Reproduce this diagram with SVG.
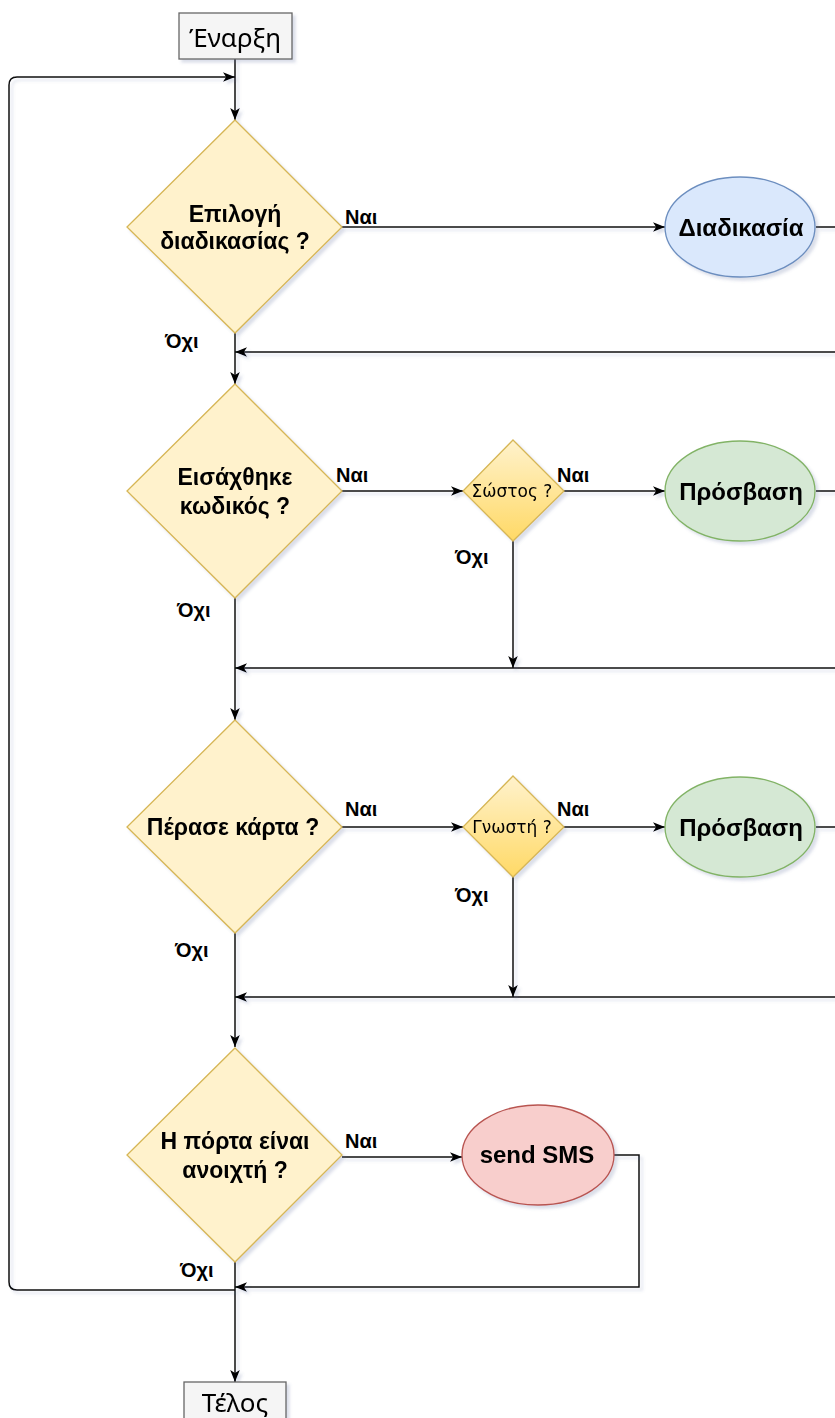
<svg xmlns="http://www.w3.org/2000/svg" width="835" height="1418" viewBox="0 0 835 1418">
  <defs>
    <filter id="shadow" x="-20%" y="-20%" width="150%" height="150%">
      <feGaussianBlur in="SourceAlpha" stdDeviation="1.6"/>
      <feOffset dx="3" dy="3" result="off"/>
      <feFlood flood-color="#5a6a9a" flood-opacity="0.22"/>
      <feComposite in2="off" operator="in"/>
      <feMerge><feMergeNode/><feMergeNode in="SourceGraphic"/></feMerge>
    </filter>
    <linearGradient id="goldFill" x1="0" y1="0" x2="0" y2="1">
      <stop offset="0" stop-color="#fff2cc"/>
      <stop offset="1" stop-color="#ffd966"/>
    </linearGradient>
    <marker id="arrow" viewBox="0 0 10 10" refX="10" refY="5" markerWidth="12" markerHeight="12" markerUnits="userSpaceOnUse" orient="auto">
      <path d="M0,1 L10,5 L0,9 L2.6,5 Z" fill="#000"/>
    </marker>
  </defs>
  <style>
    .term { fill: #f5f5f5; stroke: #666666; stroke-width: 1.3; }
    .term-t { font-family: "Noto Sans", "Open Sans", sans-serif; font-size: 26px; fill: #000; text-anchor: middle; }
    .dec { fill: #fff2cc; stroke: #d6b656; stroke-width: 1.3; }
    .dec-small { fill: url(#goldFill); stroke: #d6b656; stroke-width: 1.3; }
    .dec-t { font-family: "Liberation Sans", Arial, sans-serif; font-size: 23px; font-weight: bold; fill: #000; text-anchor: middle; }
    .small-t { font-family: "DejaVu Sans", "Liberation Sans", sans-serif; font-size: 17px; fill: #000; text-anchor: middle; }
    .blue { fill: #dae8fc; stroke: #6c8ebf; stroke-width: 1.3; }
    .green { fill: #d5e8d4; stroke: #82b366; stroke-width: 1.3; }
    .red { fill: #f8cecc; stroke: #b85450; stroke-width: 1.3; }
    .proc-t { font-family: "Liberation Sans", Arial, sans-serif; font-size: 24px; font-weight: bold; fill: #000; text-anchor: middle; }
    .lbl { font-family: "Liberation Sans", Arial, sans-serif; font-size: 20px; font-weight: bold; fill: #000; }
    .edge { fill: none; stroke: #111111; stroke-width: 1.5; }
    .arr { marker-end: url(#arrow); }
  </style>
  <rect width="835" height="1418" fill="#ffffff"/>

  <!-- connectors -->
  <g id="connectors" filter="url(#shadow)">
    <path class="edge arr" d="M235,59 V120"/>
    <path class="edge arr" d="M235,1290 H17 Q9,1290 9,1282 V85 Q9,77 17,77 H235"/>
    <path class="edge arr" d="M342,227 H665"/>
    <path class="edge" d="M816,227 H835"/>
    <path class="edge arr" d="M835,352 H235"/>
    <path class="edge arr" d="M235,333 V384"/>

    <path class="edge arr" d="M342,491 H463"/>
    <path class="edge arr" d="M564,491 H665"/>
    <path class="edge" d="M816,491 H835"/>
    <path class="edge arr" d="M513,541 V668"/>
    <path class="edge arr" d="M835,668 H235"/>
    <path class="edge arr" d="M235,598 V720"/>

    <path class="edge arr" d="M342,827 H463"/>
    <path class="edge arr" d="M564,827 H665"/>
    <path class="edge" d="M816,827 H835"/>
    <path class="edge arr" d="M513,877 V997"/>
    <path class="edge arr" d="M835,997 H235"/>
    <path class="edge arr" d="M235,933 V1047"/>

    <path class="edge arr" d="M342,1157 H462"/>
    <path class="edge arr" d="M614,1155 H639 V1287 H235"/>
    <path class="edge arr" d="M235,1262 V1382"/>
  </g>

  <!-- branch labels -->
  <g id="labels">
    <text class="lbl" x="345" y="224">Ναι</text>
    <text class="lbl" x="165" y="348">Όχι</text>
    <text class="lbl" x="336" y="482">Ναι</text>
    <text class="lbl" x="557" y="482">Ναι</text>
    <text class="lbl" x="455" y="564">Όχι</text>
    <text class="lbl" x="177" y="617">Όχι</text>
    <text class="lbl" x="345" y="816">Ναι</text>
    <text class="lbl" x="557" y="816">Ναι</text>
    <text class="lbl" x="455" y="902">Όχι</text>
    <text class="lbl" x="175" y="957">Όχι</text>
    <text class="lbl" x="345" y="1148">Ναι</text>
    <text class="lbl" x="180" y="1277">Όχι</text>
  </g>

  <g id="start" filter="url(#shadow)">
    <rect class="term" x="179" y="13" width="113" height="46"/>
    <text class="term-t" x="235" y="47">Έναρξη</text>
  </g>

  <g id="choose-procedure" filter="url(#shadow)">
    <path class="dec" d="M235,120 L342,227 L235,333 L127,227 Z"/>
    <text class="dec-t" x="235" y="222">Επιλογή</text>
    <text class="dec-t" x="235" y="249">διαδικασίας ?</text>
  </g>

  <g id="procedure" filter="url(#shadow)">
    <ellipse class="blue" cx="740" cy="227" rx="75" ry="50"/>
    <text class="proc-t" x="741" y="236">Διαδικασία</text>
  </g>

  <g id="code-entered" filter="url(#shadow)">
    <path class="dec" d="M235,384 L342,491 L235,598 L127,491 Z"/>
    <text class="dec-t" x="235" y="485">Εισάχθηκε</text>
    <text class="dec-t" x="235" y="514">κωδικός ?</text>
  </g>

  <g id="code-correct" filter="url(#shadow)">
    <path class="dec-small" d="M513,440 L564,491 L513,541 L463,491 Z"/>
    <text class="small-t" x="512" y="497">Σώστος ?</text>
  </g>

  <g id="access-code" filter="url(#shadow)">
    <ellipse class="green" cx="740" cy="491" rx="75" ry="50"/>
    <text class="proc-t" x="741" y="500">Πρόσβαση</text>
  </g>

  <g id="card-passed" filter="url(#shadow)">
    <path class="dec" d="M235,720 L342,827 L235,933 L127,827 Z"/>
    <text class="dec-t" x="233" y="835">Πέρασε κάρτα ?</text>
  </g>

  <g id="card-known" filter="url(#shadow)">
    <path class="dec-small" d="M513,776 L564,827 L513,877 L463,827 Z"/>
    <text class="small-t" x="512" y="833">Γνωστή ?</text>
  </g>

  <g id="access-card" filter="url(#shadow)">
    <ellipse class="green" cx="740" cy="827" rx="75" ry="50"/>
    <text class="proc-t" x="741" y="836">Πρόσβαση</text>
  </g>

  <g id="door-open" filter="url(#shadow)">
    <path class="dec" d="M235,1048 L342,1155 L235,1262 L127,1155 Z"/>
    <text class="dec-t" x="235" y="1149">Η πόρτα είναι</text>
    <text class="dec-t" x="235" y="1178">ανοιχτή ?</text>
  </g>

  <g id="send-sms" filter="url(#shadow)">
    <ellipse class="red" cx="538" cy="1155" rx="76" ry="50"/>
    <text class="proc-t" x="537" y="1163">send SMS</text>
  </g>

  <g id="end" filter="url(#shadow)">
    <rect class="term" x="184" y="1382" width="102" height="46"/>
    <text class="term-t" x="235" y="1412">Τέλος</text>
  </g>
</svg>
